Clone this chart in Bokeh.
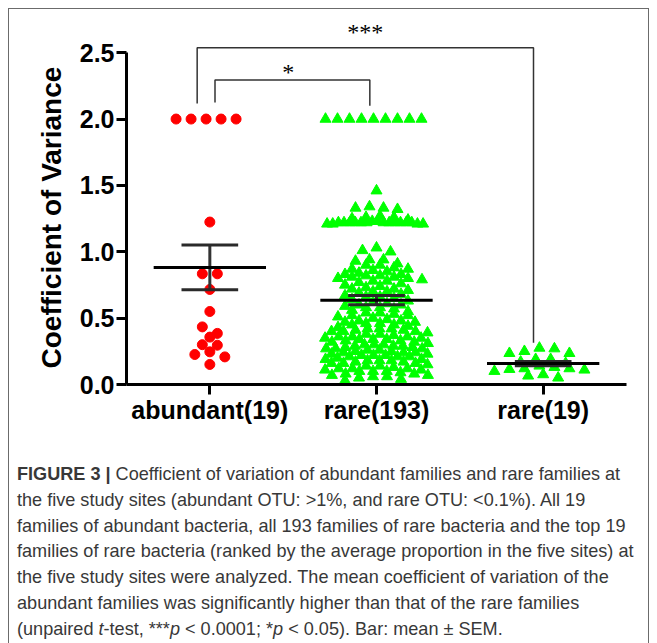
import numpy as np
from bokeh.plotting import figure
from bokeh.models import FixedTicker, Title, Div
from bokeh.layouts import column
from bokeh.embed import file_html
from bokeh.resources import INLINE

# ---------------- data ----------------
categories = ["abundant(19)", "rare(193)", "rare(19)"]
y_title = "Coefficient of Variance"

abundant = [2.0, 2.0, 2.0, 2.0, 2.0, 1.224, 0.834, 0.834, 0.716, 0.55,
            0.434, 0.385, 0.357, 0.30, 0.296, 0.246, 0.226, 0.208, 0.151]

rare_all = [
    2.0, 2.0, 2.0, 2.0, 2.0, 2.0, 2.0, 2.0, 2.0,
    1.46,
    1.33, 1.34, 1.33, 1.32,
    1.27, 1.26, 1.25, 1.24, 1.23, 1.23, 1.22, 1.22, 1.22, 1.22, 1.22, 1.22,
    1.22, 1.22, 1.22, 1.22, 1.22, 1.22, 1.21, 1.21, 1.21, 1.21, 1.26,
    1.03, 1.01, 1.00, 0.94, 0.93, 0.94, 0.91, 0.90, 0.90,
    0.88, 0.87, 0.86, 0.85, 0.87, 0.84,
    0.83, 0.82, 0.81, 0.80, 0.83, 0.82, 0.80, 0.81,
    0.79, 0.78, 0.76, 0.77, 0.75, 0.74, 0.78,
    0.73, 0.72, 0.70, 0.71, 0.69, 0.68, 0.72, 0.70,
    0.67, 0.66, 0.65, 0.64, 0.63, 0.62, 0.66,
    0.61, 0.60, 0.58, 0.57, 0.59, 0.56, 0.60, 0.58,
    0.55, 0.54, 0.53, 0.52, 0.51, 0.50, 0.54, 0.52,
    0.49, 0.48, 0.47, 0.46, 0.45, 0.44, 0.48, 0.46, 0.47,
    0.43, 0.42, 0.41, 0.40, 0.39, 0.38, 0.42, 0.40, 0.41,
    0.37, 0.36, 0.35, 0.34, 0.33, 0.32, 0.36, 0.34, 0.35, 0.33,
    0.31, 0.30, 0.29, 0.28, 0.27, 0.26, 0.30, 0.28, 0.29, 0.27,
    0.25, 0.24, 0.23, 0.22, 0.21, 0.20, 0.24, 0.22, 0.23, 0.21,
    0.19, 0.18, 0.17, 0.16, 0.15, 0.14, 0.18, 0.16, 0.17,
    0.13, 0.12, 0.11, 0.10, 0.09, 0.12, 0.10, 0.11,
    0.08, 0.07, 0.06, 0.05, 0.04, 0.07, 0.03,
    0.45, 0.42, 0.40, 0.38, 0.36, 0.34, 0.32, 0.30, 0.29, 0.27, 0.26, 0.25,
    0.24, 0.22, 0.21, 0.19, 0.18, 0.16, 0.14, 0.12, 0.10, 0.08, 0.06,
]

rare_top = [0.27, 0.235, 0.19, 0.19, 0.235, 0.25, 0.275, 0.17, 0.16,
            0.12, 0.11, 0.075, 0.05, 0.065, 0.10, 0.115, 0.12, 0.13, 0.14]

y_ticks = [0.0, 0.5, 1.0, 1.5, 2.0, 2.5]
significance = ["***", "*"]

caption_html = (
    "<b>FIGURE 3 |</b> Coefficient of variation of abundant families and rare families at<br>"
    "the five study sites (abundant OTU: &gt;1%, and rare OTU: &lt;0.1%). All 19<br>"
    "families of abundant bacteria, all 193 families of rare bacteria and the top 19<br>"
    "families of rare bacteria (ranked by the average proportion in the five sites) at<br>"
    "the five study sites were analyzed. The mean coefficient of variation of the<br>"
    "abundant families was significantly higher than that of the rare families<br>"
    "(unpaired <i>t</i>-test, ***<i>p</i> &lt; 0.0001; *<i>p</i> &lt; 0.05). Bar: mean &plusmn; SEM."
)

# ---------------- layout constants ----------------
FRAME_W, FRAME_H = 500, 365
X0, X1, Y0, Y1 = 0.5, 3.5, 0.0, 2.75
PX_X = FRAME_W / (X1 - X0)
PX_Y = FRAME_H / (Y1 - Y0)


def swarm(vals, row_px, step_px, half_px):
    v = np.asarray(vals, float)
    order = np.argsort(-v, kind="stable")
    rows, cur = [], []
    for i in order:
        if cur and (v[cur[0]] - v[i]) * PX_Y > row_px:
            rows.append(cur)
            cur = []
        cur.append(i)
    if cur:
        rows.append(cur)
    off = np.zeros(len(v))
    for k, r in enumerate(rows):
        m = len(r)
        if m == 1:
            continue
        step = min(step_px, 2 * half_px / (m - 1))
        shift = (step / 4) * (1 if k % 2 else -1) if m > 4 else 0
        pos = [(j - (m - 1) / 2) * step + shift for j in range(m)]
        pos = sorted(pos, key=lambda t: (abs(t), t))
        for idx, pp in zip(r, pos):
            off[idx] = pp / PX_X
    return off


p = figure(frame_width=FRAME_W, frame_height=FRAME_H,
           x_range=(X0, X1), y_range=(Y0, Y1),
           min_border_left=117, min_border_right=22,
           min_border_top=10, min_border_bottom=60,
           output_backend="svg", toolbar_location=None)
p.outline_line_color = None
p.grid.visible = False
p.background_fill_color = "white"
p.border_fill_color = "white"

groups = [abundant, rare_all, rare_top]
centers = [1, 2, 3]

# markers
ab_x = np.array(centers[0]) + swarm(abundant, 7, 15, 30)
p.scatter(ab_x, abundant, marker="circle", size=10, color="#FF0000")
ra_x = np.array(centers[1]) + swarm(rare_all, 5, 14, 48)
p.scatter(ra_x, rare_all, marker="triangle", size=11, color="#00FF00")
rt_x = np.array(centers[2]) + swarm(rare_top, 6, 15, 45)
p.scatter(rt_x, rare_top, marker="triangle", size=11, color="#00FF00")

# mean +/- SEM
MEAN_HALF, CAP_HALF = 0.337, 0.17
for c, vals in zip(centers, groups):
    a = np.asarray(vals, float)
    m = a.mean()
    s = a.std(ddof=1) / np.sqrt(len(a))
    p.segment(x0=[c], x1=[c], y0=[m - s], y1=[m + s], line_width=3, line_color="#333333")
    p.segment(x0=[c - CAP_HALF] * 2, x1=[c + CAP_HALF] * 2, y0=[m - s, m + s], y1=[m - s, m + s],
              line_width=3, line_color="#2a2a2a")
    p.segment(x0=[c - MEAN_HALF], x1=[c + MEAN_HALF], y0=[m], y1=[m], line_width=3, line_color="black")

# significance brackets
lvl3, lvl1 = 2.538, 2.295
b3 = ([centers[0] - 0.076, centers[0] - 0.076, centers[2] - 0.058, centers[2] - 0.058],
      [max(abundant) + 0.117, lvl3, lvl3, max(rare_top) + 0.04])
b1 = ([centers[0] + 0.031, centers[0] + 0.031, centers[1] - 0.04, centers[1] - 0.04],
      [max(abundant) + 0.124, lvl1, lvl1, max(rare_all) + 0.1])
p.multi_line(xs=[b3[0], b1[0]], ys=[b3[1], b1[1]], line_color="#333333", line_width=1.5)
p.text(x=[(b3[0][0] + b3[0][2]) / 2, 1.47], y=[lvl3 + 0.118, lvl1 + 0.063], text=significance,
       text_font_size="24px", text_align="center", text_baseline="middle",
       text_color="black", text_font="Liberation Sans")

# axes
for ax in (p.xaxis[0], p.yaxis[0]):
    ax.axis_line_width = 3
    ax.axis_line_color = "black"
    ax.major_tick_line_width = 3
    ax.major_tick_line_color = "black"
    ax.major_tick_out = 10
    ax.major_tick_in = 0
    ax.minor_tick_line_color = None
    ax.major_label_text_font = "Liberation Sans"
    ax.major_label_text_font_style = "bold"
    ax.major_label_text_font_size = "25px"
    ax.major_label_text_color = "black"

p.yaxis.ticker = FixedTicker(ticks=y_ticks)
p.yaxis.major_label_overrides = {t: f"{t:.1f}" for t in y_ticks}
p.yaxis.bounds = (y_ticks[0], y_ticks[-1])
p.yaxis.major_label_standoff = 2

p.xaxis.ticker = FixedTicker(ticks=centers)
p.xaxis.major_label_overrides = {c: n for c, n in zip(centers, categories)}
p.xaxis.bounds = (X0, X1)
p.xaxis.major_label_standoff = 1

ytitle = Title(text=y_title, align="left", offset=16, standoff=19,
               text_font="Liberation Sans", text_font_style="bold",
               text_font_size="28px", text_color="black")
p.add_layout(ytitle, "left")

caption = Div(text=caption_html, width=639, height=199, margin=0,
              styles={"font-family": "'Liberation Sans Narrow', 'Liberation Sans', sans-serif",
                      "font-size": "18.1px", "line-height": "25.8px", "color": "#383838",
                      "padding-left": "8px", "padding-top": "18px", "overflow": "hidden",
                      "white-space": "nowrap", "box-sizing": "border-box"})

layout = column(p, caption, width=641,
                styles={"margin-left": "8px", "margin-top": "8px",
                        "border-left": "1px solid #6b6b6b", "border-top": "1px solid #6b6b6b",
                        "border-right": "1px solid #6b6b6b", "background": "white",
                        "box-sizing": "border-box", "overflow": "hidden"})

open("out.html", "w").write(file_html(layout, INLINE))
